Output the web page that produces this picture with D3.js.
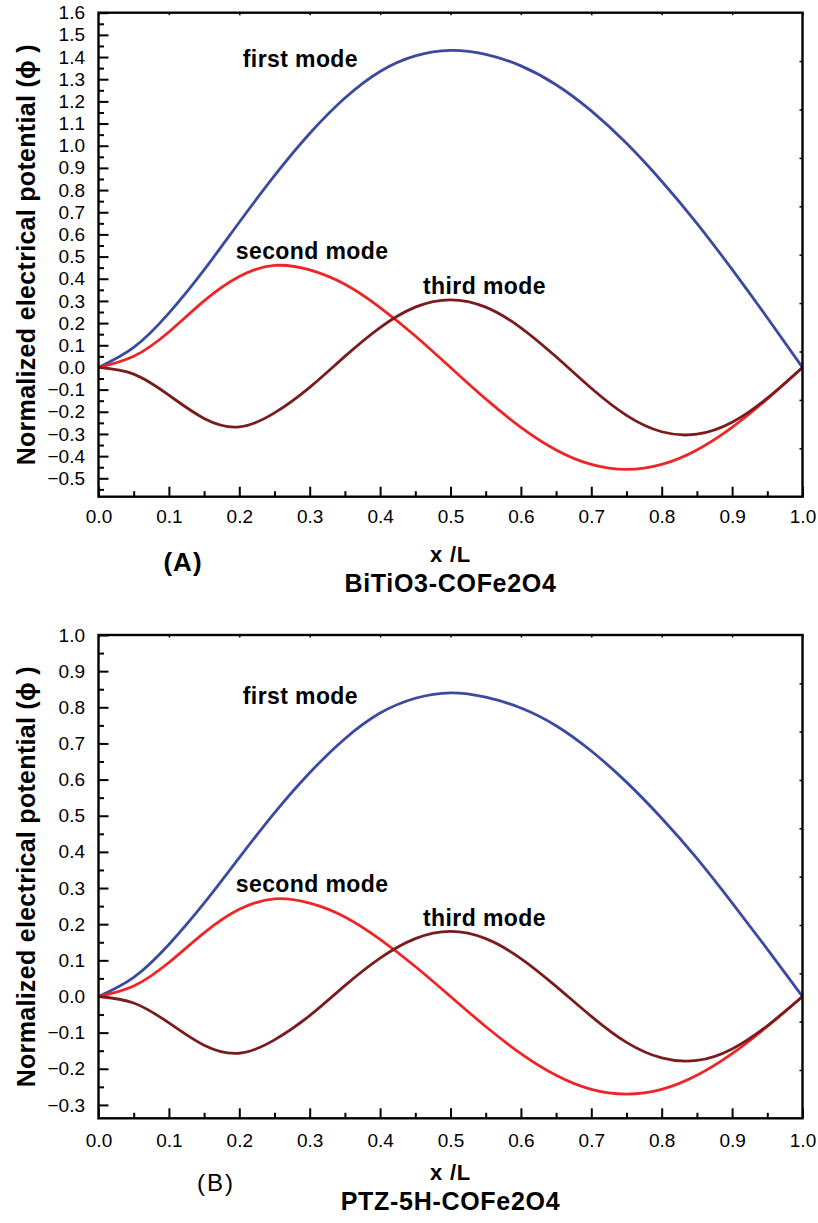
<!DOCTYPE html>
<html>
<head>
<meta charset="utf-8">
<script src="https://cdn.jsdelivr.net/npm/d3@7"></script>
<style>
  body { margin: 0; background: #fff; }
  svg { display: block; }
  text { font-family: "Liberation Sans", Arial, Helvetica, sans-serif; fill: #000; }
</style>
</head>
<body>
<svg id="chart" width="818" height="1223"></svg>
<script>
// Position along the beam, x/L
const xOverL = [0, 0.05, 0.1, 0.15, 0.2, 0.25, 0.3, 0.35, 0.4, 0.45, 0.5,
                0.55, 0.6, 0.65, 0.7, 0.75, 0.8, 0.85, 0.9, 0.95, 1];

// (A) BiTiO3-CoFe2O4: normalized electrical potential per mode
const firstModeA  = [0, 0.09, 0.245, 0.44, 0.655, 0.865, 1.055, 1.215, 1.335, 1.405, 1.43,
                     1.412, 1.36, 1.275, 1.157, 1.011, 0.84, 0.65, 0.442, 0.224, 0];
const secondModeA = [0, 0.05, 0.16, 0.30, 0.41, 0.46, 0.44, 0.375, 0.27, 0.142, 0,
                     -0.142, -0.27, -0.372, -0.4375, -0.46, -0.4375, -0.372, -0.27, -0.142, 0];
const thirdModeA  = [0, -0.03, -0.125, -0.23, -0.268, -0.205, -0.09, 0.05, 0.18, 0.272, 0.305,
                     0.272, 0.179, 0.048, -0.094, -0.216, -0.29, -0.301, -0.247, -0.138, 0];

// (B) PTZ-5H-CoFe2O4
const firstModeB  = [0, 0.053, 0.144, 0.258, 0.384, 0.508, 0.619, 0.713, 0.784, 0.825, 0.84,
                     0.828, 0.798, 0.749, 0.679, 0.593, 0.493, 0.382, 0.259, 0.131, 0];
const secondModeB = [0, 0.029, 0.094, 0.176, 0.241, 0.27, 0.258, 0.22, 0.158, 0.083, 0,
                     -0.083, -0.158, -0.218, -0.257, -0.27, -0.257, -0.218, -0.158, -0.083, 0];
const thirdModeB  = [0, -0.018, -0.073, -0.135, -0.157, -0.12, -0.053, 0.03, 0.106, 0.16, 0.18,
                     0.16, 0.105, 0.028, -0.055, -0.127, -0.17, -0.177, -0.145, -0.081, 0];

// Tick values
const xMajorTicks = d3.range(0, 11).map(i => i / 10);
const xMinorTicks = d3.range(0, 10).map(i => i / 10 + 0.05);
const yMajorTicksA = d3.range(-5, 17).map(i => i / 10);
const yMajorTicksB = d3.range(-3, 11).map(i => i / 10);

const modeNames = ["first mode", "second mode", "third mode"];
const modeColors = ["#3b4a9e", "#ee2526", "#7a1c1d"];

const svg = d3.select("#chart");
svg.append("rect").attr("width", 818).attr("height", 1223).attr("fill", "#fff");

const FONT = '"Liberation Sans", Arial, Helvetica, sans-serif';

function drawPanel(cfg) {
  const left = 98.5, right = 802.5;
  const x = d3.scaleLinear().domain([0, 1]).range([left, right]);
  const y = d3.scaleLinear().domain(cfg.yDomain).range([cfg.bottom, cfg.top]);
  const g = svg.append("g");

  const styleTicks = a => {
    a.select(".domain").remove();
    a.selectAll("line").attr("stroke-width", 2);
    a.selectAll("text").attr("font-size", 19).attr("font-family", FONT).attr("fill", "#000");
  };

  // Minor ticks (left and bottom)
  const yMinor = cfg.yMajor.map(v => +(v - 0.05).toFixed(2)).filter(v => v > cfg.yDomain[0]);
  g.append("g").attr("transform", `translate(${left},0)`)
    .call(d3.axisLeft(y).tickValues(yMinor).tickSize(-5.5).tickFormat(""))
    .call(styleTicks);
  g.append("g").attr("transform", `translate(0,${cfg.bottom})`)
    .call(d3.axisBottom(x).tickValues(xMinorTicks).tickSize(-5.5).tickFormat(""))
    .call(styleTicks);

  // Major ticks with labels
  g.append("g").attr("transform", `translate(${left},0)`)
    .call(d3.axisLeft(y).tickValues(cfg.yMajor).tickSize(-10).tickPadding(13.5)
      .tickFormat(d3.format(".1f")))
    .call(styleTicks);
  g.append("g").attr("transform", `translate(0,${cfg.bottom})`)
    .call(d3.axisBottom(x).tickValues(xMajorTicks).tickSize(-10).tickPadding(cfg.xLabelPad)
      .tickFormat(d3.format(".1f")))
    .call(styleTicks);

  // Small ticks on the top and right frame edges
  g.append("g").attr("transform", `translate(0,${cfg.top})`)
    .call(d3.axisTop(x).tickValues(xMajorTicks).tickSize(-2.5).tickFormat(""))
    .call(styleTicks)
    .call(a => a.selectAll("line").attr("stroke-width", 1.5));
  const yFrac = d3.scaleLinear().domain([0, 1]).range([cfg.bottom, cfg.top]);
  g.append("g").attr("transform", `translate(${right},0)`)
    .call(d3.axisRight(yFrac).tickValues(d3.range(1, 10).map(i => i / 10)).tickSize(-3).tickFormat(""))
    .call(styleTicks)
    .call(a => a.selectAll("line").attr("stroke-width", 1.5));

  // Mode curves
  const line = d3.line()
    .x((d, i) => x(xOverL[i]))
    .y(d => y(d))
    .curve(d3.curveNatural);
  cfg.series.forEach((s, k) => {
    g.append("path").datum(s)
      .attr("fill", "none")
      .attr("stroke", modeColors[k])
      .attr("stroke-width", 2.8)
      .attr("stroke-linejoin", "round")
      .attr("d", line);
  });

  // Frame
  g.append("rect")
    .attr("x", left).attr("y", cfg.top)
    .attr("width", right - left).attr("height", cfg.bottom - cfg.top)
    .attr("fill", "none").attr("stroke", "#000").attr("stroke-width", 2.4);

  // Mode labels
  cfg.labels.forEach((p, k) => {
    g.append("text")
      .attr("x", x(p[0])).attr("y", y(p[1]))
      .attr("font-size", 23).attr("font-weight", "bold")
      .attr("letter-spacing", "0.4px")
      .text(modeNames[k]);
  });

  // Axis titles
  g.append("text")
    .attr("transform", `translate(26,${(cfg.top + cfg.bottom) / 2}) rotate(-90)`)
    .attr("text-anchor", "middle").attr("dy", "0.36em")
    .attr("font-size", 25).attr("font-weight", "bold")
    .attr("letter-spacing", "0.3px")
    .text("Normalized electrical potential (\u03d5 )");
  g.append("text")
    .attr("x", (left + right) / 2).attr("y", cfg.bottom + cfg.titleOffset)
    .attr("text-anchor", "middle")
    .attr("font-size", 22).attr("font-weight", "bold").attr("letter-spacing", "0.8px")
    .text("x /L");
  g.append("text")
    .attr("x", (left + right) / 2).attr("y", cfg.bottom + cfg.titleOffset + 30)
    .attr("text-anchor", "middle")
    .attr("font-size", 25).attr("font-weight", "bold").attr("letter-spacing", "0.7px")
    .text(cfg.material);

  // Panel tag
  g.append("text")
    .attr("x", cfg.tag.x).attr("y", cfg.tag.y)
    .attr("text-anchor", "middle")
    .attr("font-size", cfg.tag.size).attr("font-weight", cfg.tag.weight)
    .attr("letter-spacing", cfg.tag.spacing)
    .text(cfg.tag.text);
}

drawPanel({
  top: 12.7, bottom: 496.7,
  yDomain: [-0.583, 1.6],
  yMajor: yMajorTicksA,
  series: [firstModeA, secondModeA, thirdModeA],
  labels: [[0.205, 1.355], [0.195, 0.487], [0.461, 0.329]],
  xLabelPad: 13,
  titleOffset: 65,
  material: "BiTiO3-COFe2O4",
  tag: { text: "(A)", x: 183, y: 571, size: 26, weight: "bold", spacing: "1px" }
});

drawPanel({
  top: 635, bottom: 1118.3,
  yDomain: [-0.337, 1.0],
  yMajor: yMajorTicksB,
  series: [firstModeB, secondModeB, thirdModeB],
  labels: [[0.205, 0.808], [0.195, 0.29], [0.461, 0.196]],
  xLabelPad: 15,
  titleOffset: 62,
  material: "PTZ-5H-COFe2O4",
  tag: { text: "(B)", x: 216, y: 1191, size: 24, weight: "normal", spacing: "2px" }
});
</script>
</body>
</html>
